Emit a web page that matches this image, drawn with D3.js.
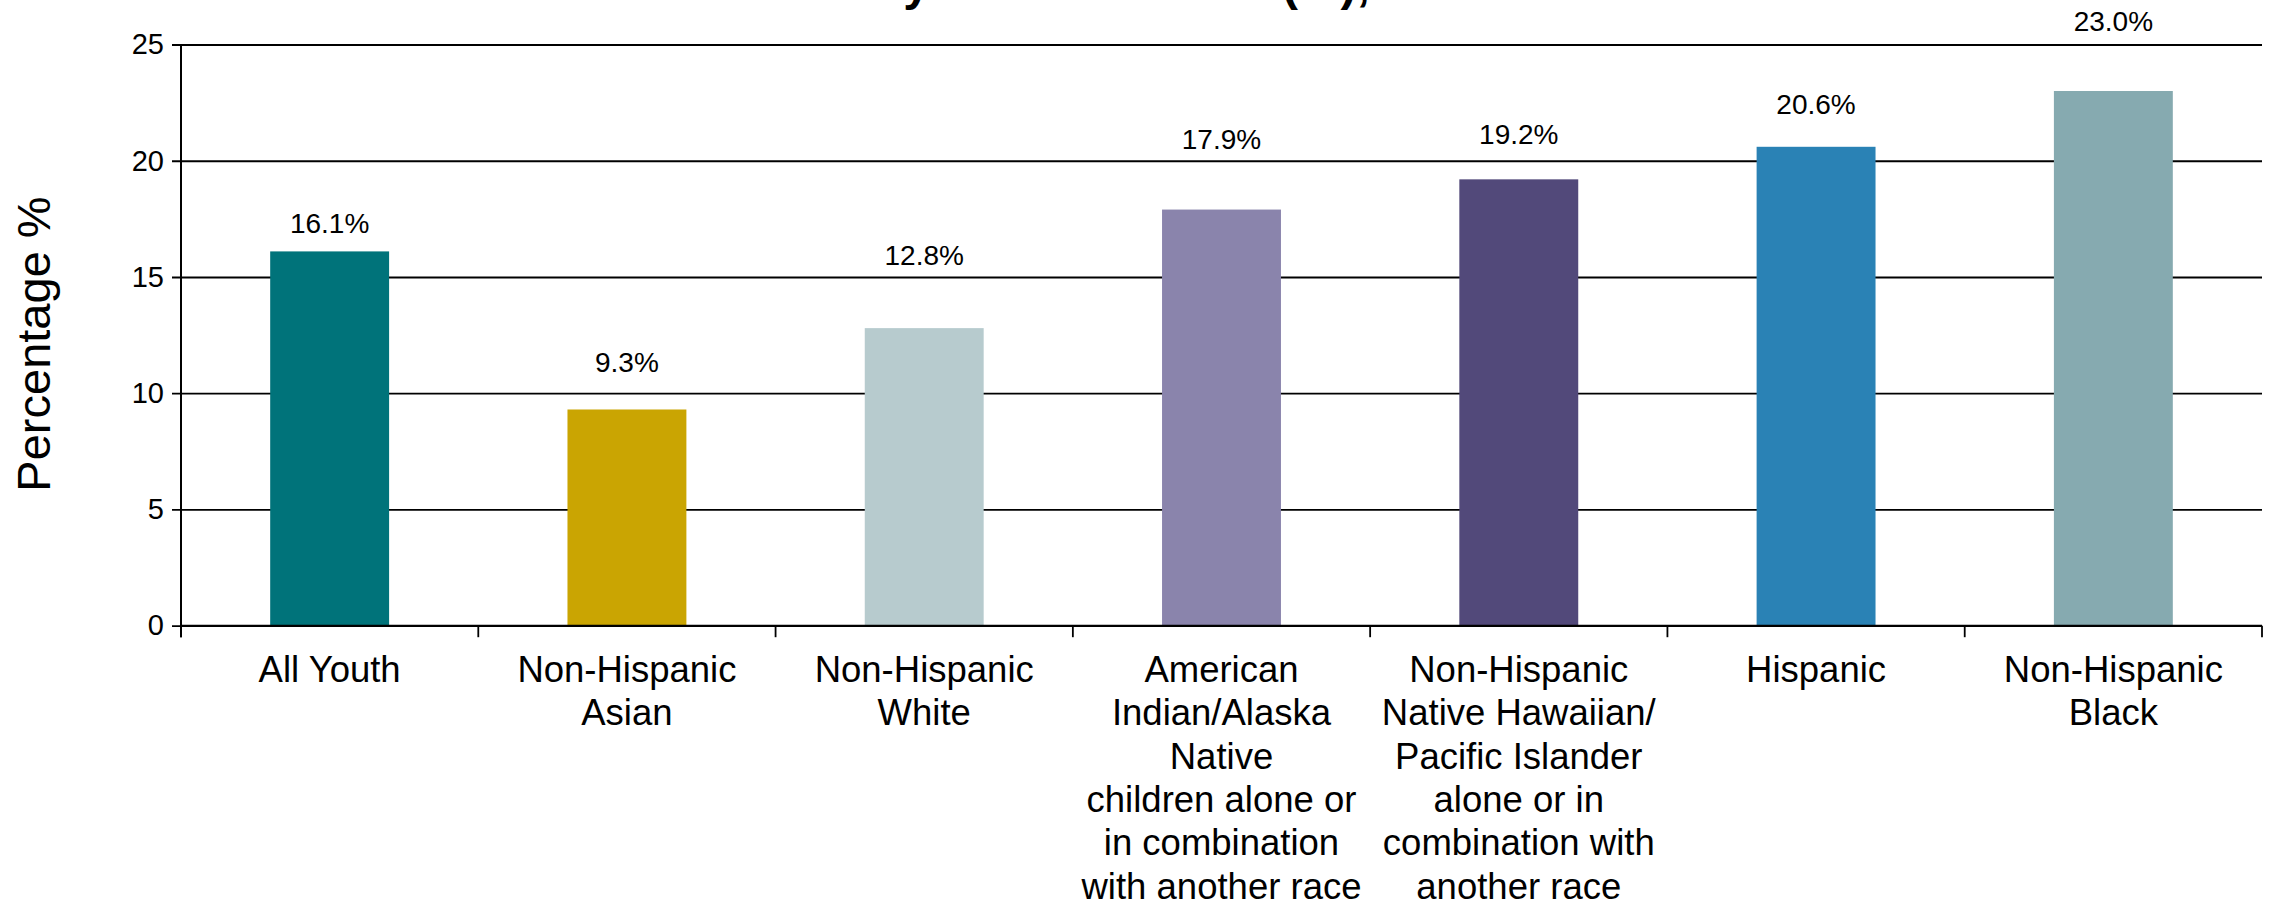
<!DOCTYPE html>
<html>
<head>
<meta charset="utf-8">
<script src="https://cdn.jsdelivr.net/npm/d3@7"></script>
<style>
  html, body { margin: 0; padding: 0; background: #fff; }
  svg { display: block; }
  text { font-family: "Liberation Sans", Arial, sans-serif; fill: #000; }
</style>
</head>
<body>
<svg id="chart" width="2270" height="902"></svg>
<script>
// Youth rate by race/ethnicity group
const categories = [
  ["All Youth"],
  ["Non-Hispanic", "Asian"],
  ["Non-Hispanic", "White"],
  ["American", "Indian/Alaska", "Native", "children alone or", "in combination", "with another race"],
  ["Non-Hispanic", "Native Hawaiian/", "Pacific Islander", "alone or in", "combination with", "another race"],
  ["Hispanic"],
  ["Non-Hispanic", "Black"]
];
const values = [16.1, 9.3, 12.8, 17.9, 19.2, 20.6, 23.0];
// where each value label sits, in percentage units
const labelAt = [16.9, 10.9, 15.5, 20.5, 20.7, 22.0, 25.6];
const barColors = ["#00737a", "#caa502", "#b7cbce", "#8a84ac", "#52497a", "#2a82b5", "#86aab0"];
const yTicks = [0, 5, 10, 15, 20, 25];
const titleText = "Youth Poverty Rate in the US (%), 2021";
const yTitle = "Percentage %";

const svg = d3.select("#chart");
const plotLeft = 181, plotRight = 2262, plotTop = 44.5, plotBottom = 625.7;

const keys = categories.map((c, i) => i);
const x = d3.scaleBand().domain(keys).range([plotLeft, plotRight])
  .paddingInner(0.6).paddingOuter(0.3);
const y = d3.scaleLinear().domain([0, 25]).range([plotBottom, plotTop]);
const step = x.step();

// title (runs off the top of the canvas)
svg.append("text")
  .attr("x", 608).attr("y", 0)
  .attr("font-size", 48).attr("font-weight", "bold")
  .text(titleText);

// horizontal gridlines + y axis
const yAxis = d3.axisLeft(y).tickValues(yTicks)
  .tickSize(-(plotRight - plotLeft)).tickSizeOuter(0).tickPadding(17);
const gy = svg.append("g").attr("transform", `translate(${plotLeft},0)`).call(yAxis);
gy.select(".domain").remove();
gy.selectAll(".tick line").attr("x1", -9).attr("stroke", "#000").attr("stroke-width", 1.8);
gy.selectAll(".tick text").attr("font-size", 29).attr("font-family", "Liberation Sans, Arial, sans-serif").attr("fill", "#000");

// vertical axis line
svg.append("line")
  .attr("x1", plotLeft).attr("x2", plotLeft).attr("y1", y(25)).attr("y2", plotBottom + 11.5)
  .attr("stroke", "#000").attr("stroke-width", 2);

// bars
svg.append("g").selectAll("rect").data(values).join("rect")
  .attr("x", (d, i) => x(i))
  .attr("width", x.bandwidth())
  .attr("y", d => y(d))
  .attr("height", d => y(0) - y(d))
  .attr("fill", (d, i) => barColors[i]);

// baseline and category separators
svg.append("line")
  .attr("x1", plotLeft).attr("x2", plotRight).attr("y1", plotBottom).attr("y2", plotBottom)
  .attr("stroke", "#000").attr("stroke-width", 2);
const bounds = keys.map(i => x(i) - step * 0.3).concat([plotRight]);
svg.append("g").selectAll("line").data(bounds).join("line")
  .attr("x1", d => d).attr("x2", d => d)
  .attr("y1", plotBottom).attr("y2", plotBottom + 11.5)
  .attr("stroke", "#000").attr("stroke-width", 1.8);

// value labels
svg.append("g").selectAll("text").data(values).join("text")
  .attr("x", (d, i) => x(i) + x.bandwidth() / 2)
  .attr("y", (d, i) => y(labelAt[i]))
  .attr("text-anchor", "middle")
  .attr("font-size", 28)
  .text(d => d.toFixed(1) + "%");

// category labels
const cl = svg.append("g").selectAll("text").data(categories).join("text")
  .attr("text-anchor", "middle")
  .attr("font-size", 36.5);
cl.selectAll("tspan").data((d, i) => d.map(s => ({ s, i }))).join("tspan")
  .attr("x", d => x(d.i) + x.bandwidth() / 2)
  .attr("y", (d, j) => 682 + j * 43.3)
  .text(d => d.s);

// y axis title
svg.append("text")
  .attr("transform", "translate(50,344) rotate(-90)")
  .attr("text-anchor", "middle")
  .attr("font-size", 47)
  .text(yTitle);
</script>
</body>
</html>
